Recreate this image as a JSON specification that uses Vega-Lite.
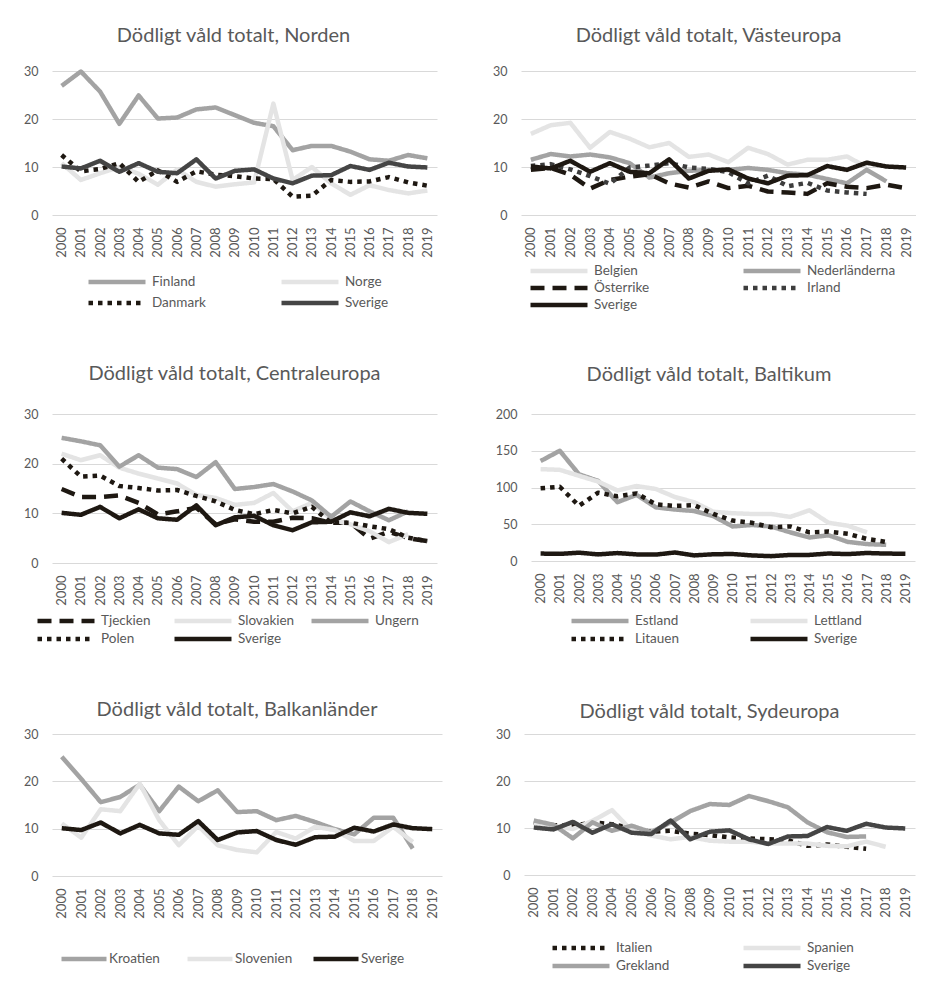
{
"$schema":"https://vega.github.io/schema/vega-lite/v6.json",
"padding":{"left":22,"top":25,"right":0,"bottom":0},
"datasets":{
"sverige":[
{"country":"Sverige","year":"2000","value":10.1},{"country":"Sverige","year":"2001","value":9.7},{"country":"Sverige","year":"2002","value":11.3},{"country":"Sverige","year":"2003","value":9.0},{"country":"Sverige","year":"2004","value":10.8},{"country":"Sverige","year":"2005","value":9.0},{"country":"Sverige","year":"2006","value":8.7},{"country":"Sverige","year":"2007","value":11.6},{"country":"Sverige","year":"2008","value":7.6},{"country":"Sverige","year":"2009","value":9.2},{"country":"Sverige","year":"2010","value":9.5},{"country":"Sverige","year":"2011","value":7.6},{"country":"Sverige","year":"2012","value":6.6},{"country":"Sverige","year":"2013","value":8.2},{"country":"Sverige","year":"2014","value":8.3},{"country":"Sverige","year":"2015","value":10.2},{"country":"Sverige","year":"2016","value":9.4},{"country":"Sverige","year":"2017","value":10.9},{"country":"Sverige","year":"2018","value":10.1},{"country":"Sverige","year":"2019","value":9.9}
],
"norden":[
{"country":"Finland","year":"2000","value":26.9},{"country":"Finland","year":"2001","value":29.9},{"country":"Finland","year":"2002","value":25.7},{"country":"Finland","year":"2003","value":19.0},{"country":"Finland","year":"2004","value":24.9},{"country":"Finland","year":"2005","value":20.1},{"country":"Finland","year":"2006","value":20.3},{"country":"Finland","year":"2007","value":22.0},{"country":"Finland","year":"2008","value":22.4},{"country":"Finland","year":"2009","value":20.8},{"country":"Finland","year":"2010","value":19.2},{"country":"Finland","year":"2011","value":18.5},{"country":"Finland","year":"2012","value":13.5},{"country":"Finland","year":"2013","value":14.4},{"country":"Finland","year":"2014","value":14.4},{"country":"Finland","year":"2015","value":13.2},{"country":"Finland","year":"2016","value":11.6},{"country":"Finland","year":"2017","value":11.3},{"country":"Finland","year":"2018","value":12.5},{"country":"Finland","year":"2019","value":11.8},
{"country":"Norge","year":"2000","value":10.8},{"country":"Norge","year":"2001","value":7.3},{"country":"Norge","year":"2002","value":8.7},{"country":"Norge","year":"2003","value":10.0},{"country":"Norge","year":"2004","value":8.6},{"country":"Norge","year":"2005","value":6.3},{"country":"Norge","year":"2006","value":9.5},{"country":"Norge","year":"2007","value":6.9},{"country":"Norge","year":"2008","value":5.9},{"country":"Norge","year":"2009","value":6.4},{"country":"Norge","year":"2010","value":6.8},{"country":"Norge","year":"2011","value":23.2},{"country":"Norge","year":"2012","value":7.3},{"country":"Norge","year":"2013","value":10.0},{"country":"Norge","year":"2014","value":6.6},{"country":"Norge","year":"2015","value":4.2},{"country":"Norge","year":"2016","value":6.2},{"country":"Norge","year":"2017","value":5.2},{"country":"Norge","year":"2018","value":4.5},{"country":"Norge","year":"2019","value":5.1},
{"country":"Danmark","year":"2000","value":12.5},{"country":"Danmark","year":"2001","value":9.1},{"country":"Danmark","year":"2002","value":9.6},{"country":"Danmark","year":"2003","value":10.8},{"country":"Danmark","year":"2004","value":6.9},{"country":"Danmark","year":"2005","value":9.3},{"country":"Danmark","year":"2006","value":6.9},{"country":"Danmark","year":"2007","value":9.1},{"country":"Danmark","year":"2008","value":8.4},{"country":"Danmark","year":"2009","value":8.1},{"country":"Danmark","year":"2010","value":7.6},{"country":"Danmark","year":"2011","value":7.5},{"country":"Danmark","year":"2012","value":3.8},{"country":"Danmark","year":"2013","value":4.0},{"country":"Danmark","year":"2014","value":7.3},{"country":"Danmark","year":"2015","value":6.9},{"country":"Danmark","year":"2016","value":7.0},{"country":"Danmark","year":"2017","value":7.9},{"country":"Danmark","year":"2018","value":6.8},{"country":"Danmark","year":"2019","value":6.1}
],
"vast":[
{"country":"Belgien","year":"2000","value":16.9},{"country":"Belgien","year":"2001","value":18.7},{"country":"Belgien","year":"2002","value":19.2},{"country":"Belgien","year":"2003","value":14.0},{"country":"Belgien","year":"2004","value":17.3},{"country":"Belgien","year":"2005","value":15.9},{"country":"Belgien","year":"2006","value":14.1},{"country":"Belgien","year":"2007","value":15.0},{"country":"Belgien","year":"2008","value":12.1},{"country":"Belgien","year":"2009","value":12.6},{"country":"Belgien","year":"2010","value":11.0},{"country":"Belgien","year":"2011","value":14.0},{"country":"Belgien","year":"2012","value":12.7},{"country":"Belgien","year":"2013","value":10.5},{"country":"Belgien","year":"2014","value":11.5},{"country":"Belgien","year":"2015","value":11.5},{"country":"Belgien","year":"2016","value":12.2},{"country":"Belgien","year":"2017","value":10.0},
{"country":"Nederländerna","year":"2000","value":11.5},{"country":"Nederländerna","year":"2001","value":12.7},{"country":"Nederländerna","year":"2002","value":12.2},{"country":"Nederländerna","year":"2003","value":12.6},{"country":"Nederländerna","year":"2004","value":12.0},{"country":"Nederländerna","year":"2005","value":10.8},{"country":"Nederländerna","year":"2006","value":7.8},{"country":"Nederländerna","year":"2007","value":8.7},{"country":"Nederländerna","year":"2008","value":9.2},{"country":"Nederländerna","year":"2009","value":9.4},{"country":"Nederländerna","year":"2010","value":9.4},{"country":"Nederländerna","year":"2011","value":9.8},{"country":"Nederländerna","year":"2012","value":9.4},{"country":"Nederländerna","year":"2013","value":8.7},{"country":"Nederländerna","year":"2014","value":8.4},{"country":"Nederländerna","year":"2015","value":7.5},{"country":"Nederländerna","year":"2016","value":6.6},{"country":"Nederländerna","year":"2017","value":9.4},{"country":"Nederländerna","year":"2018","value":7.0},
{"country":"Österrike","year":"2000","value":9.4},{"country":"Österrike","year":"2001","value":9.8},{"country":"Österrike","year":"2002","value":8.4},{"country":"Österrike","year":"2003","value":5.5},{"country":"Österrike","year":"2004","value":7.3},{"country":"Österrike","year":"2005","value":8.0},{"country":"Österrike","year":"2006","value":8.5},{"country":"Österrike","year":"2007","value":6.6},{"country":"Österrike","year":"2008","value":5.7},{"country":"Österrike","year":"2009","value":7.0},{"country":"Österrike","year":"2010","value":5.6},{"country":"Österrike","year":"2011","value":6.1},{"country":"Österrike","year":"2012","value":4.9},{"country":"Österrike","year":"2013","value":4.7},{"country":"Österrike","year":"2014","value":4.4},{"country":"Österrike","year":"2015","value":6.6},{"country":"Österrike","year":"2016","value":5.9},{"country":"Österrike","year":"2017","value":5.6},{"country":"Österrike","year":"2018","value":6.3},{"country":"Österrike","year":"2019","value":5.6},
{"country":"Irland","year":"2000","value":10.2},{"country":"Irland","year":"2001","value":10.6},{"country":"Irland","year":"2002","value":9.5},{"country":"Irland","year":"2003","value":8.1},{"country":"Irland","year":"2004","value":6.5},{"country":"Irland","year":"2005","value":9.9},{"country":"Irland","year":"2006","value":10.3},{"country":"Irland","year":"2007","value":10.8},{"country":"Irland","year":"2008","value":9.9},{"country":"Irland","year":"2009","value":9.6},{"country":"Irland","year":"2010","value":8.9},{"country":"Irland","year":"2011","value":6.6},{"country":"Irland","year":"2012","value":8.2},{"country":"Irland","year":"2013","value":6.0},{"country":"Irland","year":"2014","value":6.7},{"country":"Irland","year":"2015","value":5.1},{"country":"Irland","year":"2016","value":4.7},{"country":"Irland","year":"2017","value":4.4}
],
"central":[
{"country":"Tjeckien","year":"2000","value":14.9},{"country":"Tjeckien","year":"2001","value":13.3},{"country":"Tjeckien","year":"2002","value":13.3},{"country":"Tjeckien","year":"2003","value":13.6},{"country":"Tjeckien","year":"2004","value":12.1},{"country":"Tjeckien","year":"2005","value":9.8},{"country":"Tjeckien","year":"2006","value":10.4},{"country":"Tjeckien","year":"2007","value":11.1},{"country":"Tjeckien","year":"2008","value":7.8},{"country":"Tjeckien","year":"2009","value":8.8},{"country":"Tjeckien","year":"2010","value":8.3},{"country":"Tjeckien","year":"2011","value":8.3},{"country":"Tjeckien","year":"2012","value":9.1},{"country":"Tjeckien","year":"2013","value":9.0},{"country":"Tjeckien","year":"2014","value":8.1},{"country":"Tjeckien","year":"2015","value":8.1},{"country":"Tjeckien","year":"2016","value":4.9},{"country":"Tjeckien","year":"2017","value":6.3},{"country":"Tjeckien","year":"2018","value":5.0},{"country":"Tjeckien","year":"2019","value":4.4},
{"country":"Slovakien","year":"2000","value":22.0},{"country":"Slovakien","year":"2001","value":20.7},{"country":"Slovakien","year":"2002","value":21.7},{"country":"Slovakien","year":"2003","value":19.2},{"country":"Slovakien","year":"2004","value":18.0},{"country":"Slovakien","year":"2005","value":17.0},{"country":"Slovakien","year":"2006","value":16.0},{"country":"Slovakien","year":"2007","value":13.7},{"country":"Slovakien","year":"2008","value":13.1},{"country":"Slovakien","year":"2009","value":11.7},{"country":"Slovakien","year":"2010","value":12.1},{"country":"Slovakien","year":"2011","value":14.1},{"country":"Slovakien","year":"2012","value":10.4},{"country":"Slovakien","year":"2013","value":12.1},{"country":"Slovakien","year":"2014","value":8.8},{"country":"Slovakien","year":"2015","value":7.8},{"country":"Slovakien","year":"2016","value":6.4},{"country":"Slovakien","year":"2017","value":4.2},{"country":"Slovakien","year":"2018","value":5.8},
{"country":"Ungern","year":"2000","value":25.2},{"country":"Ungern","year":"2001","value":24.5},{"country":"Ungern","year":"2002","value":23.7},{"country":"Ungern","year":"2003","value":19.4},{"country":"Ungern","year":"2004","value":21.7},{"country":"Ungern","year":"2005","value":19.2},{"country":"Ungern","year":"2006","value":18.9},{"country":"Ungern","year":"2007","value":17.3},{"country":"Ungern","year":"2008","value":20.3},{"country":"Ungern","year":"2009","value":14.9},{"country":"Ungern","year":"2010","value":15.3},{"country":"Ungern","year":"2011","value":15.9},{"country":"Ungern","year":"2012","value":14.4},{"country":"Ungern","year":"2013","value":12.6},{"country":"Ungern","year":"2014","value":9.3},{"country":"Ungern","year":"2015","value":12.4},{"country":"Ungern","year":"2016","value":10.4},{"country":"Ungern","year":"2017","value":8.6},{"country":"Ungern","year":"2018","value":10.4},
{"country":"Polen","year":"2000","value":21.0},{"country":"Polen","year":"2001","value":17.4},{"country":"Polen","year":"2002","value":17.6},{"country":"Polen","year":"2003","value":15.5},{"country":"Polen","year":"2004","value":15.1},{"country":"Polen","year":"2005","value":14.6},{"country":"Polen","year":"2006","value":14.7},{"country":"Polen","year":"2007","value":13.5},{"country":"Polen","year":"2008","value":12.4},{"country":"Polen","year":"2009","value":10.7},{"country":"Polen","year":"2010","value":9.8},{"country":"Polen","year":"2011","value":10.7},{"country":"Polen","year":"2012","value":10.0},{"country":"Polen","year":"2013","value":11.3},{"country":"Polen","year":"2014","value":8.1},{"country":"Polen","year":"2015","value":8.1},{"country":"Polen","year":"2016","value":7.4},{"country":"Polen","year":"2017","value":6.8},{"country":"Polen","year":"2018","value":5.1},{"country":"Polen","year":"2019","value":4.4}
],
"balt":[
{"country":"Estland","year":"2000","value":136},{"country":"Estland","year":"2001","value":150},{"country":"Estland","year":"2002","value":118},{"country":"Estland","year":"2003","value":109},{"country":"Estland","year":"2004","value":80},{"country":"Estland","year":"2005","value":90},{"country":"Estland","year":"2006","value":73},{"country":"Estland","year":"2007","value":70},{"country":"Estland","year":"2008","value":68},{"country":"Estland","year":"2009","value":61},{"country":"Estland","year":"2010","value":47},{"country":"Estland","year":"2011","value":49},{"country":"Estland","year":"2012","value":47},{"country":"Estland","year":"2013","value":39},{"country":"Estland","year":"2014","value":32},{"country":"Estland","year":"2015","value":35},{"country":"Estland","year":"2016","value":26},{"country":"Estland","year":"2017","value":23},{"country":"Estland","year":"2018","value":22},
{"country":"Lettland","year":"2000","value":125},{"country":"Lettland","year":"2001","value":124},{"country":"Lettland","year":"2002","value":116},{"country":"Lettland","year":"2003","value":108},{"country":"Lettland","year":"2004","value":96},{"country":"Lettland","year":"2005","value":102},{"country":"Lettland","year":"2006","value":98},{"country":"Lettland","year":"2007","value":87},{"country":"Lettland","year":"2008","value":80},{"country":"Lettland","year":"2009","value":67},{"country":"Lettland","year":"2010","value":65},{"country":"Lettland","year":"2011","value":64},{"country":"Lettland","year":"2012","value":64},{"country":"Lettland","year":"2013","value":60},{"country":"Lettland","year":"2014","value":69},{"country":"Lettland","year":"2015","value":52},{"country":"Lettland","year":"2016","value":48},{"country":"Lettland","year":"2017","value":39},
{"country":"Litauen","year":"2000","value":99},{"country":"Litauen","year":"2001","value":101},{"country":"Litauen","year":"2002","value":75},{"country":"Litauen","year":"2003","value":93},{"country":"Litauen","year":"2004","value":88},{"country":"Litauen","year":"2005","value":92},{"country":"Litauen","year":"2006","value":77},{"country":"Litauen","year":"2007","value":75},{"country":"Litauen","year":"2008","value":76},{"country":"Litauen","year":"2009","value":64},{"country":"Litauen","year":"2010","value":55},{"country":"Litauen","year":"2011","value":52},{"country":"Litauen","year":"2012","value":46},{"country":"Litauen","year":"2013","value":47},{"country":"Litauen","year":"2014","value":39},{"country":"Litauen","year":"2015","value":40},{"country":"Litauen","year":"2016","value":37},{"country":"Litauen","year":"2017","value":30},{"country":"Litauen","year":"2018","value":26}
],
"balkan":[
{"country":"Kroatien","year":"2000","value":25.2},{"country":"Kroatien","year":"2001","value":20.5},{"country":"Kroatien","year":"2002","value":15.6},{"country":"Kroatien","year":"2003","value":16.7},{"country":"Kroatien","year":"2004","value":19.3},{"country":"Kroatien","year":"2005","value":13.7},{"country":"Kroatien","year":"2006","value":18.9},{"country":"Kroatien","year":"2007","value":15.8},{"country":"Kroatien","year":"2008","value":18.1},{"country":"Kroatien","year":"2009","value":13.5},{"country":"Kroatien","year":"2010","value":13.7},{"country":"Kroatien","year":"2011","value":11.8},{"country":"Kroatien","year":"2012","value":12.7},{"country":"Kroatien","year":"2013","value":11.4},{"country":"Kroatien","year":"2014","value":9.9},{"country":"Kroatien","year":"2015","value":8.8},{"country":"Kroatien","year":"2016","value":12.3},{"country":"Kroatien","year":"2017","value":12.3},{"country":"Kroatien","year":"2018","value":5.8},
{"country":"Slovenien","year":"2000","value":11.1},{"country":"Slovenien","year":"2001","value":8.1},{"country":"Slovenien","year":"2002","value":14.1},{"country":"Slovenien","year":"2003","value":13.7},{"country":"Slovenien","year":"2004","value":19.5},{"country":"Slovenien","year":"2005","value":11.8},{"country":"Slovenien","year":"2006","value":6.5},{"country":"Slovenien","year":"2007","value":10.6},{"country":"Slovenien","year":"2008","value":6.5},{"country":"Slovenien","year":"2009","value":5.5},{"country":"Slovenien","year":"2010","value":5.0},{"country":"Slovenien","year":"2011","value":9.3},{"country":"Slovenien","year":"2012","value":7.9},{"country":"Slovenien","year":"2013","value":10.4},{"country":"Slovenien","year":"2014","value":9.7},{"country":"Slovenien","year":"2015","value":7.4},{"country":"Slovenien","year":"2016","value":7.4},{"country":"Slovenien","year":"2017","value":10.4},{"country":"Slovenien","year":"2018","value":7.2}
],
"syd":[
{"country":"Italien","year":"2000","value":11.2},{"country":"Italien","year":"2001","value":10.6},{"country":"Italien","year":"2002","value":10.4},{"country":"Italien","year":"2003","value":11.2},{"country":"Italien","year":"2004","value":10.8},{"country":"Italien","year":"2005","value":10.0},{"country":"Italien","year":"2006","value":9.2},{"country":"Italien","year":"2007","value":9.4},{"country":"Italien","year":"2008","value":8.8},{"country":"Italien","year":"2009","value":8.5},{"country":"Italien","year":"2010","value":8.0},{"country":"Italien","year":"2011","value":7.8},{"country":"Italien","year":"2012","value":7.6},{"country":"Italien","year":"2013","value":7.4},{"country":"Italien","year":"2014","value":6.2},{"country":"Italien","year":"2015","value":6.5},{"country":"Italien","year":"2016","value":6.0},{"country":"Italien","year":"2017","value":5.6},
{"country":"Spanien","year":"2000","value":11.0},{"country":"Spanien","year":"2001","value":10.5},{"country":"Spanien","year":"2002","value":9.8},{"country":"Spanien","year":"2003","value":11.5},{"country":"Spanien","year":"2004","value":13.8},{"country":"Spanien","year":"2005","value":9.5},{"country":"Spanien","year":"2006","value":8.4},{"country":"Spanien","year":"2007","value":7.6},{"country":"Spanien","year":"2008","value":8.1},{"country":"Spanien","year":"2009","value":7.3},{"country":"Spanien","year":"2010","value":7.1},{"country":"Spanien","year":"2011","value":7.1},{"country":"Spanien","year":"2012","value":6.7},{"country":"Spanien","year":"2013","value":6.7},{"country":"Spanien","year":"2014","value":6.7},{"country":"Spanien","year":"2015","value":6.2},{"country":"Spanien","year":"2016","value":6.1},{"country":"Spanien","year":"2017","value":7.1},{"country":"Spanien","year":"2018","value":6.0},
{"country":"Grekland","year":"2000","value":11.6},{"country":"Grekland","year":"2001","value":10.7},{"country":"Grekland","year":"2002","value":7.8},{"country":"Grekland","year":"2003","value":11.2},{"country":"Grekland","year":"2004","value":9.4},{"country":"Grekland","year":"2005","value":10.5},{"country":"Grekland","year":"2006","value":9.1},{"country":"Grekland","year":"2007","value":11.2},{"country":"Grekland","year":"2008","value":13.6},{"country":"Grekland","year":"2009","value":15.1},{"country":"Grekland","year":"2010","value":14.9},{"country":"Grekland","year":"2011","value":16.8},{"country":"Grekland","year":"2012","value":15.7},{"country":"Grekland","year":"2013","value":14.4},{"country":"Grekland","year":"2014","value":11.2},{"country":"Grekland","year":"2015","value":9.1},{"country":"Grekland","year":"2016","value":8.1},{"country":"Grekland","year":"2017","value":8.2}
]
},
"resolve":{"scale":{"color":"independent","strokeDash":"independent"},"legend":{"color":"independent","strokeDash":"independent"}},
"vconcat":[
{"resolve":{"scale":{"color":"independent","strokeDash":"independent"},"legend":{"color":"independent","strokeDash":"independent"}},
"vconcat":[
{"resolve":{"scale":{"color":"independent","strokeDash":"independent"},"legend":{"color":"independent","strokeDash":"independent"}},
"hconcat":[
{"width":385,"height":144,
"title":{"text":"Dödligt våld totalt, Norden","dx":-11,"offset":19.5},
"encoding":{
"x":{"field":"year","type":"ordinal","scale":{"type":"point","padding":0.5}},
"y":{"field":"value","type":"quantitative","scale":{"domain":[0,30]},"axis":{"values":[0,10,20,30],"minExtent":30,"maxExtent":30}},
"color":{"field":"country","type":"nominal","scale":{"domain":["Finland","Norge","Danmark","Sverige"],"range":["#a3a3a3","#e4e4e4","#1e1812","#454545"]},"legend":{"title":null,"orient":"none","legendX":34,"legendY":203,"direction":"horizontal","columns":2,"columnPadding":73,"rowPadding":5,"gridAlign":"all"}},
"strokeDash":{"field":"country","type":"nominal","scale":{"domain":["Finland","Norge","Danmark","Sverige"],"range":[[1,0],[1,0],[4.5,5],[1,0]]},"legend":{"title":null,"orient":"none","legendX":34,"legendY":203,"direction":"horizontal","columns":2,"columnPadding":73,"rowPadding":5,"gridAlign":"all"}}
},
"layer":[{"data":{"name":"norden"},"mark":{"type":"line"}},{"data":{"name":"sverige"},"mark":{"type":"line"}}]
},
{"width":395,"height":144,
"title":{"text":"Dödligt våld totalt, Västeuropa","dx":-10,"offset":19.5},
"encoding":{
"x":{"field":"year","type":"ordinal","scale":{"type":"point","padding":0.5}},
"y":{"field":"value","type":"quantitative","scale":{"domain":[0,30]},"axis":{"values":[0,10,20,30],"minExtent":40,"maxExtent":40}},
"color":{"field":"country","type":"nominal","scale":{"domain":["Belgien","Nederländerna","Österrike","Irland","Sverige"],"range":["#e4e4e4","#a3a3a3","#1e1812","#3d3d3d","#1e1812"]},"legend":{"title":null,"orient":"none","legendX":7,"legendY":192,"direction":"horizontal","columns":2,"columnPadding":58,"rowPadding":1,"gridAlign":"all"}},
"strokeDash":{"field":"country","type":"nominal","scale":{"domain":["Belgien","Nederländerna","Österrike","Irland","Sverige"],"range":[[1,0],[1,0],[14,8],[4.5,5],[1,0]]},"legend":{"title":null,"orient":"none","legendX":7,"legendY":192,"direction":"horizontal","columns":2,"columnPadding":58,"rowPadding":1,"gridAlign":"all"}}
},
"layer":[{"data":{"name":"vast"},"mark":{"type":"line"}},{"data":{"name":"sverige"},"mark":{"type":"line"}}]
}
],"spacing":44},
{"resolve":{"scale":{"color":"independent","strokeDash":"independent"},"legend":{"color":"independent","strokeDash":"independent"}},
"hconcat":[
{"width":385,"height":149,
"title":{"text":"Dödligt våld totalt, Centraleuropa","dx":-10,"offset":24.5},
"encoding":{
"x":{"field":"year","type":"ordinal","scale":{"type":"point","padding":0.5}},
"y":{"field":"value","type":"quantitative","scale":{"domain":[0,30]},"axis":{"values":[0,10,20,30],"minExtent":30,"maxExtent":30}},
"color":{"field":"country","type":"nominal","scale":{"domain":["Tjeckien","Slovakien","Ungern","Polen","Sverige"],"range":["#1e1812","#e4e4e4","#a3a3a3","#1e1812","#1e1812"]},"legend":{"title":null,"orient":"none","legendX":-17,"legendY":199,"direction":"horizontal","columns":3,"columnPadding":14,"rowPadding":2,"gridAlign":"all"}},
"strokeDash":{"field":"country","type":"nominal","scale":{"domain":["Tjeckien","Slovakien","Ungern","Polen","Sverige"],"range":[[14,8],[1,0],[1,0],[4.5,5],[1,0]]},"legend":{"title":null,"orient":"none","legendX":-17,"legendY":199,"direction":"horizontal","columns":3,"columnPadding":14,"rowPadding":2,"gridAlign":"all"}}
},
"layer":[{"data":{"name":"central"},"mark":{"type":"line"}},{"data":{"name":"sverige"},"mark":{"type":"line"}}]
},
{"width":384,"height":147,
"title":{"text":"Dödligt våld totalt, Baltikum","dx":-14,"offset":23.5},
"encoding":{
"x":{"field":"year","type":"ordinal","scale":{"type":"point","padding":0.5}},
"y":{"field":"value","type":"quantitative","scale":{"domain":[0,200]},"axis":{"values":[0,50,100,150,200],"minExtent":50,"maxExtent":50}},
"color":{"field":"country","type":"nominal","scale":{"domain":["Estland","Lettland","Litauen","Sverige"],"range":["#a3a3a3","#e4e4e4","#1e1812","#1e1812"]},"legend":{"title":null,"orient":"none","legendX":38,"legendY":199,"direction":"horizontal","columns":2,"columnPadding":65,"rowPadding":2,"gridAlign":"all"}},
"strokeDash":{"field":"country","type":"nominal","scale":{"domain":["Estland","Lettland","Litauen","Sverige"],"range":[[1,0],[1,0],[4.5,5],[1,0]]},"legend":{"title":null,"orient":"none","legendX":38,"legendY":199,"direction":"horizontal","columns":2,"columnPadding":65,"rowPadding":2,"gridAlign":"all"}}
},
"layer":[{"data":{"name":"balt"},"mark":{"type":"line"}},{"data":{"name":"sverige"},"mark":{"type":"line"}}]
}
],"spacing":44}
],"spacing":50},
{"resolve":{"scale":{"color":"independent","strokeDash":"independent"},"legend":{"color":"independent","strokeDash":"independent"}},
"hconcat":[
{"width":390,"height":142,
"title":{"text":"Dödligt våld totalt, Balkanländer","dx":-10,"offset":8.5},
"encoding":{
"x":{"field":"year","type":"ordinal","scale":{"type":"point","padding":0.5}},
"y":{"field":"value","type":"quantitative","scale":{"domain":[0,30]},"axis":{"values":[0,10,20,30],"minExtent":25,"maxExtent":25}},
"color":{"field":"country","type":"nominal","scale":{"domain":["Kroatien","Slovenien","Sverige"],"range":["#a3a3a3","#e4e4e4","#1e1812"]},"legend":{"title":null,"orient":"none","legendX":7,"legendY":217,"direction":"horizontal","columns":3,"columnPadding":18,"gridAlign":"all","symbolSize":2025,"labelOffset":0}},
"strokeDash":{"field":"country","type":"nominal","scale":{"domain":["Kroatien","Slovenien","Sverige"],"range":[[1,0],[1,0],[1,0]]},"legend":{"title":null,"orient":"none","legendX":7,"legendY":217,"direction":"horizontal","columns":3,"columnPadding":18,"gridAlign":"all","symbolSize":2025,"labelOffset":0}}
},
"layer":[{"data":{"name":"balkan"},"mark":{"type":"line"}},{"data":{"name":"sverige"},"mark":{"type":"line"}}]
},
{"width":391,"height":141,
"title":{"text":"Dödligt våld totalt, Sydeuropa","dx":-10,"offset":6.5},
"encoding":{
"x":{"field":"year","type":"ordinal","scale":{"type":"point","padding":0.5}},
"y":{"field":"value","type":"quantitative","scale":{"domain":[0,30]},"axis":{"values":[0,10,20,30],"minExtent":38,"maxExtent":38}},
"color":{"field":"country","type":"nominal","scale":{"domain":["Italien","Spanien","Grekland","Sverige"],"range":["#1e1812","#e4e4e4","#a3a3a3","#454545"]},"legend":{"title":null,"orient":"none","legendX":26,"legendY":206,"direction":"horizontal","columns":2,"columnPadding":71,"rowPadding":2,"gridAlign":"all"}},
"strokeDash":{"field":"country","type":"nominal","scale":{"domain":["Italien","Spanien","Grekland","Sverige"],"range":[[4.5,5],[1,0],[1,0],[1,0]]},"legend":{"title":null,"orient":"none","legendX":26,"legendY":206,"direction":"horizontal","columns":2,"columnPadding":71,"rowPadding":2,"gridAlign":"all"}}
},
"layer":[{"data":{"name":"syd"},"mark":{"type":"line"}},{"data":{"name":"sverige"},"mark":{"type":"line"}}]
}
],"spacing":44}
],
"spacing":52,
"config":{
"font":"Lato",
"view":{"stroke":null},
"line":{"strokeWidth":4.5,"strokeJoin":"round"},
"title":{"fontSize":20,"fontWeight":"normal","color":"#595959","anchor":"middle"},
"axis":{"domain":false,"ticks":false,"labelColor":"#595959","labelFontSize":12.5,"gridColor":"#d9d9d9","title":null},
"axisX":{"grid":false,"labelAngle":-90,"labelPadding":12,"labelFontSize":13},
"axisY":{"labelPadding":14},
"legend":{"symbolType":"stroke","symbolStrokeWidth":4.5,"symbolSize":3249,"clipHeight":16,"labelFontSize":13.5,"labelColor":"#595959","labelOffset":4,"padding":0}
}
}
